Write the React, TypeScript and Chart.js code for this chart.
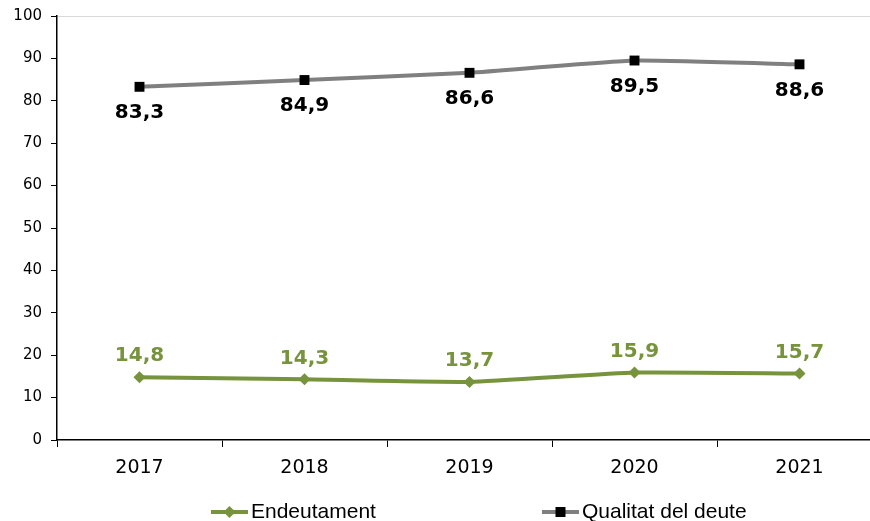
import React, { useEffect, useRef } from "react";
import { Chart, registerables } from "chart.js";

Chart.register(...registerables);

const years = ["2017", "2018", "2019", "2020", "2021"];
const endeutament = [14.8, 14.3, 13.7, 15.9, 15.7];
const qualitat = [83.3, 84.9, 86.6, 89.5, 88.6];
const seriesNames = ["Endeutament", "Qualitat del deute"];

const GREEN = "#77933C";
const GREY = "#808080";

const fmt = (v: number) => v.toFixed(1).replace(".", ",");

const labelPlugin = {
  id: "valueLabels",
  afterDatasetsDraw(chart: any) {
    const ctx = chart.ctx;
    ctx.save();
    ctx.font = "bold 20px 'DejaVu Sans'";
    ctx.textAlign = "center";
    ctx.textBaseline = "middle";
    chart.data.datasets.forEach((ds: any, i: number) => {
      const meta = chart.getDatasetMeta(i);
      meta.data.forEach((pt: any, j: number) => {
        const v = ds.data[j];
        if (i === 0) {
          ctx.fillStyle = GREEN;
          ctx.fillText(fmt(v), pt.x, pt.y - 21);
        } else {
          ctx.fillStyle = "#000";
          ctx.fillText(fmt(v), pt.x, pt.y + 26);
        }
      });
    });
    ctx.restore();
  },
};

const legendPlugin = {
  id: "customLegend",
  afterDraw(chart: any) {
    const ctx = chart.ctx;
    const y = 512;
    ctx.save();
    ctx.font = "21px 'Liberation Sans'";
    ctx.textBaseline = "middle";
    ctx.textAlign = "left";
    const items = [
      { x: 211, color: GREEN, style: "diamond", text: seriesNames[0] },
      { x: 542, color: GREY, style: "square", text: seriesNames[1] },
    ];
    items.forEach((it) => {
      ctx.strokeStyle = it.color;
      ctx.lineWidth = 4;
      ctx.beginPath();
      ctx.moveTo(it.x, y);
      ctx.lineTo(it.x + 37, y);
      ctx.stroke();
      const cx = it.x + 18.5;
      if (it.style === "diamond") {
        ctx.fillStyle = GREEN;
        ctx.beginPath();
        ctx.moveTo(cx, y - 6);
        ctx.lineTo(cx + 6, y);
        ctx.lineTo(cx, y + 6);
        ctx.lineTo(cx - 6, y);
        ctx.closePath();
        ctx.fill();
      } else {
        ctx.fillStyle = "#000";
        ctx.fillRect(cx - 5, y - 5, 10, 10);
      }
      ctx.fillStyle = "#000";
      ctx.fillText(it.text, it.x + 40, y);
    });
    ctx.restore();
  },
};

export default function App() {
  const ref = useRef<HTMLCanvasElement | null>(null);
  useEffect(() => {
    document.body.style.margin = "0";
    document.body.style.overflow = "hidden";
    const chart = new Chart(ref.current as HTMLCanvasElement, {
      type: "line",
      data: {
        labels: years,
        datasets: [
          {
            label: seriesNames[0],
            data: endeutament,
            borderColor: GREEN,
            backgroundColor: GREEN,
            borderWidth: 4,
            pointStyle: "rectRot",
            pointRadius: 6,
            pointBorderWidth: 0,
            tension: 0.15,
          },
          {
            label: seriesNames[1],
            data: qualitat,
            borderColor: GREY,
            backgroundColor: "#000",
            borderWidth: 4,
            pointStyle: "rect",
            pointRadius: 7,
            pointBorderWidth: 0,
            tension: 0.15,
          },
        ],
      },
      options: {
        responsive: false,
        animation: false,
        layout: { padding: { top: 16, right: 80, left: 0, bottom: 0 } },
        plugins: { legend: { display: false }, tooltip: { enabled: false } },
        scales: {
          x: {
            offset: true,
            afterFit: (s: any) => {
              s.height = 81;
            },
            grid: {
              offset: true,
              color: "transparent",
              tickColor: "#000",
              tickLength: 7,
              drawOnChartArea: false,
            },
            border: { color: "#000", width: 1.5 },
            ticks: {
              color: "#000",
              font: { family: "'DejaVu Sans'", size: 19 },
              padding: 10,
            },
          },
          y: {
            min: 0,
            max: 100,
            afterFit: (s: any) => {
              s.width = 57;
              s.paddingTop = 0;
              s.paddingBottom = 0;
            },
            grid: {
              color: (c: any) => (c.tick && c.tick.value === 100 ? "#d9d9d9" : "transparent"),
              tickColor: "#000",
              tickLength: 6,
            },
            border: { color: "#000", width: 1.5 },
            ticks: {
              stepSize: 10,
              color: "#000",
              font: { family: "'DejaVu Sans'", size: 15 },
              padding: 9,
            },
          },
        },
      },
      plugins: [labelPlugin, legendPlugin],
    });
    return () => chart.destroy();
  }, []);
  return (
    <div style={{ width: 962, height: 521 }}>
      <canvas ref={ref} width={962} height={521} />
    </div>
  );
}
